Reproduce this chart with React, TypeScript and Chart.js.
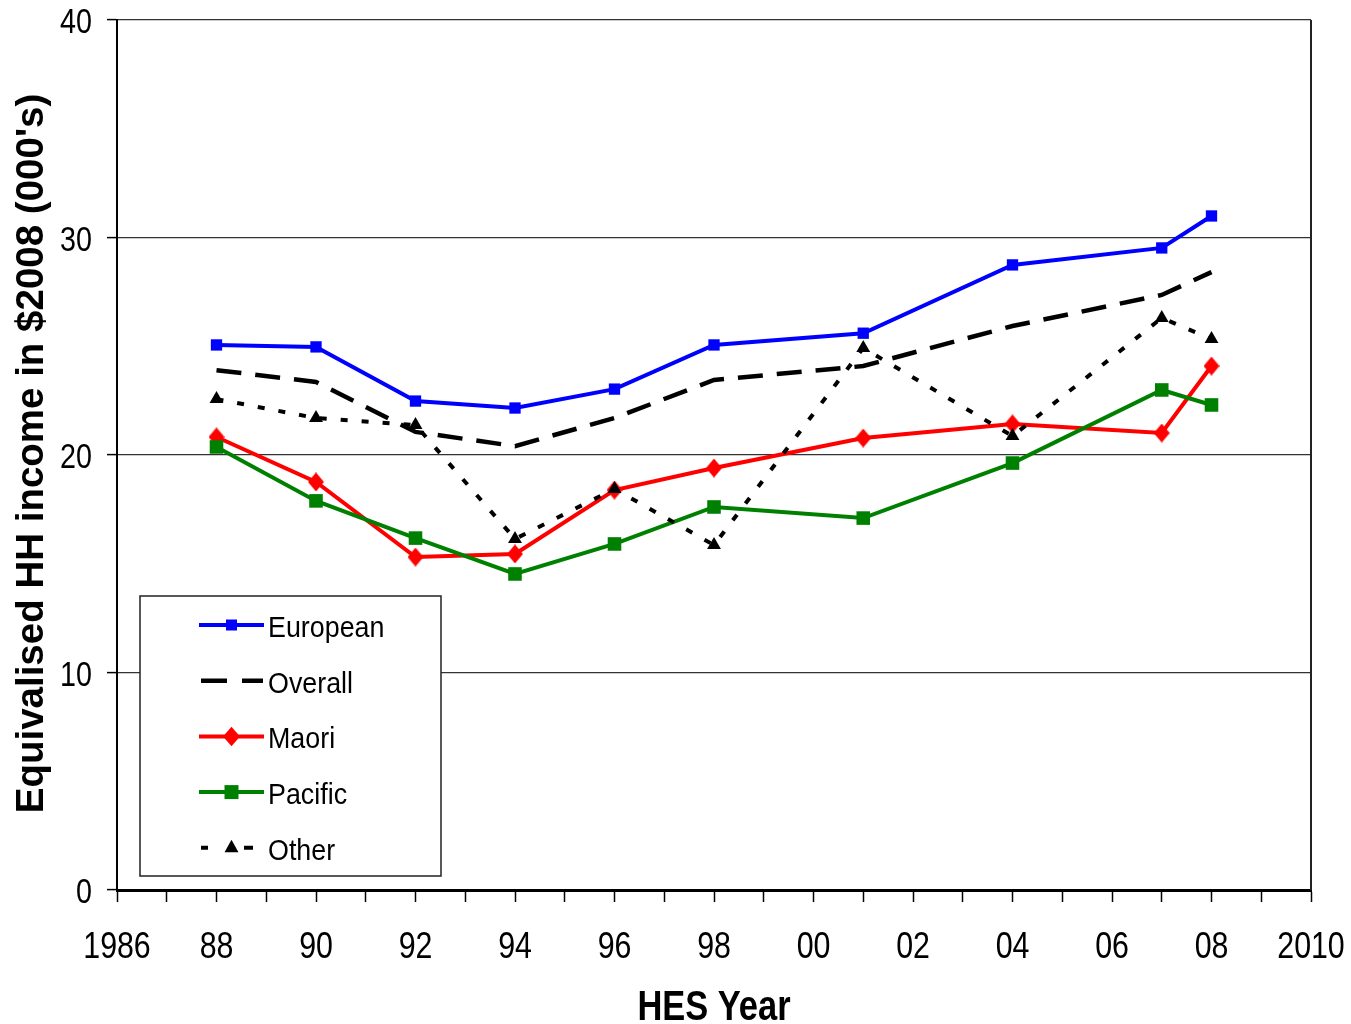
import React, { useEffect, useRef } from "react";
import { Chart, registerables } from "chart.js";

Chart.register(...registerables);

const years = [1988, 1990, 1992, 1994, 1996, 1998, 2001, 2004, 2007, 2008];
const european = [25.06, 24.97, 22.48, 22.16, 23.03, 25.06, 25.6, 28.74, 29.52, 30.99];
const overall = [23.9, 23.36, 21.06, 20.41, 21.7, 23.45, 24.09, 25.93, 27.36, 28.41];
const maori = [20.83, 18.76, 15.31, 15.45, 18.39, 19.4, 20.78, 21.43, 21.01, 24.09];
const pacific = [20.37, 17.89, 16.18, 14.53, 15.91, 17.61, 17.1, 19.63, 22.99, 22.3];
const other = [22.57, 21.7, 21.38, 16.14, 18.44, 15.86, 24.92, 20.87, 26.3, 25.33];

const xTickYears = [1986, 1988, 1990, 1992, 1994, 1996, 1998, 2000, 2002, 2004, 2006, 2008, 2010];
const xTickLabels = ["1986", "88", "90", "92", "94", "96", "98", "00", "02", "04", "06", "08", "2010"];
const yTicks = [0, 10, 20, 30, 40];
const yTickLabels = ["0", "10", "20", "30", "40"];
const xTitle = "HES Year";
const yTitle = "Equivalised HH income in $2008 (000's)";

const FAMILY = "'Liberation Sans', Arial, sans-serif";
const NARROW_SCALE = 0.82;
const LEGEND_SCALE = 0.895;

const toPts = (vals: number[]) => vals.map((v, i) => ({ x: years[i], y: v }));

function makeDiamond(w: number, h: number, color: string) {
  const c = document.createElement("canvas");
  c.width = w;
  c.height = h;
  const g = c.getContext("2d")!;
  g.fillStyle = color;
  g.beginPath();
  g.moveTo(w / 2, 0);
  g.lineTo(w, h / 2);
  g.lineTo(w / 2, h);
  g.lineTo(0, h / 2);
  g.closePath();
  g.fill();
  return c;
}

type LegendItem = {
  label: string;
  color: string;
  width: number;
  marker: "rect" | "diamond" | "triangle" | "none";
  size: number;
  segments: [number, number][];
};

const legendItems: LegendItem[] = [
  { label: "European", color: "#0000ff", width: 4, marker: "rect", size: 11, segments: [[0, 65]] },
  { label: "Overall", color: "#000000", width: 4.5, marker: "none", size: 0, segments: [[2, 28], [43, 64]] },
  { label: "Maori", color: "#ff0000", width: 4, marker: "diamond", size: 8.5, segments: [[0, 65]] },
  { label: "Pacific", color: "#008000", width: 4, marker: "rect", size: 14, segments: [[0, 65]] },
  { label: "Other", color: "#000000", width: 4, marker: "triangle", size: 8, segments: [[2, 9], [45, 54]] },
];

function drawMarker(ctx: CanvasRenderingContext2D, kind: string, x: number, y: number, size: number, color: string) {
  ctx.fillStyle = color;
  ctx.beginPath();
  if (kind === "rect") {
    ctx.rect(x - size / 2, y - size / 2, size, size);
  } else if (kind === "diamond") {
    ctx.moveTo(x, y - size * 1.15);
    ctx.lineTo(x + size, y);
    ctx.lineTo(x, y + size * 1.15);
    ctx.lineTo(x - size, y);
    ctx.closePath();
  } else if (kind === "triangle") {
    ctx.moveTo(x, y - size);
    ctx.lineTo(x + size * 0.87, y + size * 0.55);
    ctx.lineTo(x - size * 0.87, y + size * 0.55);
    ctx.closePath();
  }
  ctx.fill();
}

function narrowText(
  ctx: CanvasRenderingContext2D,
  text: string,
  x: number,
  y: number,
  size: number,
  weight: string,
  align: CanvasTextAlign,
  scaleX: number = NARROW_SCALE
) {
  ctx.save();
  ctx.font = `${weight} ${size}px ${FAMILY}`;
  ctx.fillStyle = "#000";
  ctx.textAlign = align;
  ctx.textBaseline = "alphabetic";
  ctx.translate(x, y);
  ctx.scale(scaleX, 1);
  ctx.fillText(text, 0, 0);
  ctx.restore();
}

const textAndLegend = {
  id: "textAndLegend",
  afterDraw(chart: any) {
    const { ctx, chartArea } = chart;
    const xs = chart.scales.x;
    const ys = chart.scales.y;
    ctx.save();

    // right frame line
    ctx.strokeStyle = "#222";
    ctx.lineWidth = 2;
    ctx.beginPath();
    ctx.moveTo(chartArea.right, chartArea.top);
    ctx.lineTo(chartArea.right, chartArea.bottom);
    ctx.stroke();

    // x tick labels
    xTickYears.forEach((yr, i) => {
      narrowText(ctx, xTickLabels[i], xs.getPixelForValue(yr), chartArea.bottom + 68, 37, "normal", "center");
    });
    // y tick labels
    yTicks.forEach((v, i) => {
      narrowText(ctx, yTickLabels[i], chartArea.left - 25, ys.getPixelForValue(v) + 13, 35, "normal", "right");
    });
    // x title
    narrowText(ctx, xTitle, (chartArea.left + chartArea.right) / 2, chartArea.bottom + 130, 42, "bold", "center");
    // y title (regular width, bold, rotated)
    ctx.save();
    ctx.translate(43, (chartArea.top + chartArea.bottom) / 2 - 1.5);
    ctx.rotate(-Math.PI / 2);
    ctx.font = `bold 38.5px ${FAMILY}`;
    ctx.fillStyle = "#000";
    ctx.textAlign = "center";
    ctx.textBaseline = "alphabetic";
    ctx.fillText(yTitle, 0, 0);
    ctx.restore();

    // legend box
    const bx = chartArea.left + 23;
    const by = chartArea.top + 576;
    const bw = 301;
    const bh = 280;
    ctx.fillStyle = "#ffffff";
    ctx.fillRect(bx, by, bw, bh);
    ctx.strokeStyle = "#222";
    ctx.lineWidth = 1.5;
    ctx.strokeRect(bx, by, bw, bh);

    const lx = bx + 59;
    legendItems.forEach((it, i) => {
      const y = by + 29 + i * 55.7;
      ctx.strokeStyle = it.color;
      ctx.lineWidth = it.width;
      ctx.setLineDash([]);
      ctx.beginPath();
      it.segments.forEach(([a, b]) => {
        ctx.moveTo(lx + a, y);
        ctx.lineTo(lx + b, y);
      });
      ctx.stroke();
      if (it.marker !== "none") drawMarker(ctx, it.marker, lx + 32.5, y, it.size, it.color);
      narrowText(ctx, it.label, lx + 69, y + 12, 30, "normal", "left", LEGEND_SCALE);
    });
    ctx.restore();
  },
};

export default function App() {
  const canvasRef = useRef<HTMLCanvasElement | null>(null);

  useEffect(() => {
    if (!canvasRef.current) return;
    const diamond = makeDiamond(16, 19, "#ff0000");
    const chart = new Chart(canvasRef.current, {
      type: "line",
      data: {
        datasets: [
          {
            label: "European",
            data: toPts(european),
            borderColor: "#0000ff",
            backgroundColor: "#0000ff",
            borderWidth: 4,
            pointStyle: "rect",
            pointRadius: 8,
            pointBorderWidth: 0,
            order: 4,
          },
          {
            label: "Overall",
            data: toPts(overall),
            borderColor: "#000000",
            backgroundColor: "#000000",
            borderWidth: 4.5,
            borderDash: [25, 14],
            pointRadius: 0,
            order: 3,
          },
          {
            label: "Maori",
            data: toPts(maori),
            borderColor: "#ff0000",
            backgroundColor: "#ff0000",
            borderWidth: 4,
            pointStyle: diamond,
            pointRadius: 8,
            pointBorderWidth: 0,
            order: 2,
          },
          {
            label: "Pacific",
            data: toPts(pacific),
            borderColor: "#008000",
            backgroundColor: "#008000",
            borderWidth: 4,
            pointStyle: "rect",
            pointRadius: 9.6,
            pointBorderWidth: 0,
            order: 1,
          },
          {
            label: "Other",
            data: toPts(other),
            borderColor: "#000000",
            backgroundColor: "#000000",
            borderWidth: 4,
            borderDash: [7, 14],
            pointStyle: "triangle",
            pointRadius: 8,
            pointBorderWidth: 0,
            order: 0,
          },
        ],
      },
      options: {
        responsive: false,
        animation: false,
        events: [],
        layout: { padding: { left: 0, right: 40, top: 20, bottom: 0 } },
        plugins: {
          legend: { display: false },
          tooltip: { enabled: false },
        },
        scales: {
          x: {
            type: "linear",
            min: 1986,
            max: 2010,
            afterFit: (s: any) => {
              s.height = 134;
            },
            ticks: {
              display: false,
              stepSize: 1,
              autoSkip: false,
            },
            grid: {
              display: true,
              drawOnChartArea: false,
              drawTicks: true,
              tickLength: 12,
              tickColor: "#000",
              tickWidth: 1.5,
            },
            border: { display: true, color: "#000", width: 3 },
          },
          y: {
            min: 0,
            max: 40,
            afterFit: (s: any) => {
              s.width = 117;
            },
            afterBuildTicks: (s: any) => {
              s.ticks = yTicks.map((v) => ({ value: v }));
            },
            ticks: { display: false },
            grid: {
              color: "#333",
              lineWidth: 1.2,
              tickLength: 10,
              tickColor: "#000",
              tickWidth: 1.5,
            },
            border: { display: true, color: "#000", width: 2 },
          },
        },
      },
      plugins: [textAndLegend],
    });
    return () => chart.destroy();
  }, []);

  return (
    <div style={{ position: "absolute", left: 0, top: 0, width: 1351, height: 1024, background: "#fff" }}>
      <canvas ref={canvasRef} width={1351} height={1024} />
    </div>
  );
}
